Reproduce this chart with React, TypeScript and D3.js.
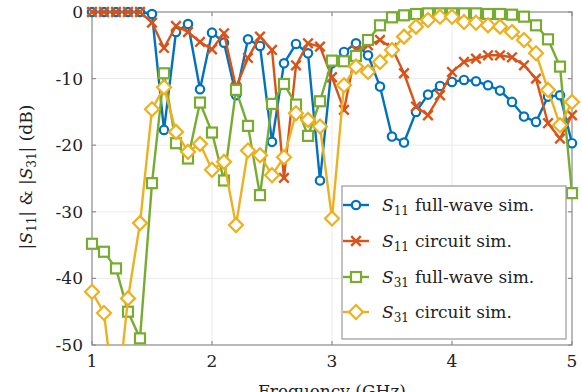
import React from "react";
import * as d3 from "d3";

const freqs = [1.0, 1.1, 1.2, 1.3, 1.4, 1.5, 1.6, 1.7, 1.8, 1.9, 2.0, 2.1, 2.2, 2.3, 2.4, 2.5, 2.6, 2.7, 2.8, 2.9, 3.0, 3.1, 3.2, 3.3, 3.4, 3.5, 3.6, 3.7, 3.8, 3.9, 4.0, 4.1, 4.2, 4.3, 4.4, 4.5, 4.6, 4.7, 4.8, 4.9, 5.0];

const s11Full = [0, 0, 0, 0, 0, -0.3, -17.7, -3.0, -1.8, -11.6, -3.1, -4.6, -12.5, -4.1, -5.1, -19.5, -7.7, -4.8, -6.2, -25.3, -7.7, -6.0, -4.7, -6.5, -11.2, -18.7, -19.6, -15.0, -12.4, -11.1, -10.5, -10.2, -10.4, -11.0, -11.8, -13.5, -15.7, -16.5, -12.7, -12.5, -19.7];

const s11Circ = [0, 0, 0, 0, 0, -1.6, -5.4, -2.1, -3.0, -4.5, -5.6, -3.2, -11.3, -6.9, -3.7, -5.7, -24.9, -8.0, -4.7, -5.2, -9.8, -14.7, -5.7, -5.0, -4.2, -5.4, -9.2, -14.2, -15.5, -12.5, -9.0, -7.5, -7.0, -6.5, -6.5, -6.8, -8.0, -10.0, -16.7, -19.0, -15.5];

const s31Full = [-34.8, -36.0, -38.5, -45.0, -49.0, -25.7, -9.2, -19.7, -22.0, -13.6, -18.1, -25.3, -11.7, -17.1, -27.5, -13.8, -10.8, -13.9, -18.6, -13.4, -7.3, -7.4, -6.6, -4.2, -2.0, -0.8, -0.5, -0.3, -0.2, -0.2, -0.2, -0.2, -0.2, -0.3, -0.3, -0.4, -0.7, -2.0, -4.1, -8.2, -27.2];

const s31Circ = [-42.0, -45.2, -60.0, -43.0, -31.7, -14.6, -11.3, -18.0, -21.0, -19.8, -23.7, -22.5, -32.0, -20.8, -21.5, -24.5, -21.8, -15.2, -16.2, -17.2, -31.0, -11.0, -8.2, -9.0, -7.5, -5.7, -3.7, -2.2, -1.2, -0.7, -0.7, -1.5, -1.6, -2.0, -2.2, -3.0, -4.2, -6.2, -11.7, -17.0, -13.5];

const xTicks = [1, 2, 3, 4, 5];
const yTicks = [0, -10, -20, -30, -40, -50];

const seriesNames = ["full-wave sim.", "circuit sim.", "full-wave sim.", "circuit sim."];
const seriesSubs = ["11", "11", "31", "31"];

const W = 582;
const H = 392;
const left = 92;
const right = 572;
const top = 12;
const bottom = 345;
const FONT = "'DejaVu Serif', serif";

const COLORS = ["#0072BD", "#D95319", "#77AC30", "#EDB120"];

function Marker({ kind, x, y, color }: { kind: string; x: number; y: number; color: string }) {
  if (kind === "circle") {
    return <circle cx={x} cy={y} r={4.2} fill="#fff" stroke={color} strokeWidth={2.2} />;
  }
  if (kind === "x") {
    const s = 4.8;
    return (
      <g stroke={color} strokeWidth={2.4}>
        <line x1={x - s} y1={y - s} x2={x + s} y2={y + s} />
        <line x1={x - s} y1={y + s} x2={x + s} y2={y - s} />
      </g>
    );
  }
  if (kind === "square") {
    const s = 5;
    return <rect x={x - s} y={y - s} width={2 * s} height={2 * s} fill="#fff" stroke={color} strokeWidth={2.2} />;
  }
  const s = 7;
  return (
    <path
      d={`M${x},${y - s}L${x + s},${y}L${x},${y + s}L${x - s},${y}Z`}
      fill="#fff"
      stroke={color}
      strokeWidth={2.2}
    />
  );
}

export default function App() {
  const x = d3.scaleLinear().domain([1, 5]).range([left, right]);
  const y = d3.scaleLinear().domain([-50, 0]).range([bottom, top]);

  const series = [
    { vals: s11Full, kind: "circle", color: COLORS[0] },
    { vals: s11Circ, kind: "x", color: COLORS[1] },
    { vals: s31Full, kind: "square", color: COLORS[2] },
    { vals: s31Circ, kind: "diamond", color: COLORS[3] },
  ];

  const line = d3
    .line<number>()
    .x((_, i) => x(freqs[i]))
    .y((d) => y(d));

  const legendRows = [211, 247, 283, 318];

  return (
    <svg width={W} height={H} style={{ position: "absolute", left: 0, top: 0, background: "#fff" }} fontFamily={FONT}>
      <defs>
        <clipPath id="plotclip">
          <rect x={left} y={top - 10} width={right - left} height={bottom - top + 10} />
        </clipPath>
      </defs>
      <rect x={0} y={0} width={W} height={H} fill="#fff" />
      {/* grid */}
      <g stroke="#ebebeb" strokeWidth={1}>
        {xTicks.map((t) => (
          <line key={"gx" + t} x1={x(t)} x2={x(t)} y1={top} y2={bottom} />
        ))}
        {yTicks.map((t) => (
          <line key={"gy" + t} x1={left} x2={right} y1={y(t)} y2={y(t)} />
        ))}
      </g>
      {/* axis box */}
      <rect x={left} y={top} width={right - left} height={bottom - top} fill="none" stroke="#8f8f8f" strokeWidth={1.2} />
      <g stroke="#8f8f8f" strokeWidth={1.2}>
        {xTicks.map((t) => (
          <g key={"tx" + t}>
            <line x1={x(t)} x2={x(t)} y1={bottom} y2={bottom - 4} />
            <line x1={x(t)} x2={x(t)} y1={top} y2={top + 4} />
          </g>
        ))}
        {yTicks.map((t) => (
          <g key={"ty" + t}>
            <line x1={left} x2={left + 4} y1={y(t)} y2={y(t)} />
            <line x1={right} x2={right - 4} y1={y(t)} y2={y(t)} />
          </g>
        ))}
      </g>
      {/* tick labels */}
      <g fontSize={17} fill="#222">
        {xTicks.map((t) => (
          <text key={"lx" + t} x={x(t)} y={367} textAnchor="middle">
            {t}
          </text>
        ))}
        {yTicks.map((t) => (
          <text key={"ly" + t} x={83} y={y(t) + 6} textAnchor="end">
            {t}
          </text>
        ))}
      </g>
      {/* series */}
      {series.map((s, si) => (
        <g key={"s" + si}>
          <path d={line(s.vals) || ""} fill="none" stroke={s.color} strokeWidth={2.4} clipPath="url(#plotclip)" strokeLinejoin="round" />
          {s.vals.map((v, i) =>
            v >= -52 ? <Marker key={i} kind={s.kind} x={x(freqs[i])} y={y(v)} color={s.color} /> : null
          )}
        </g>
      ))}
      {/* legend */}
      <rect x={342} y={186} width={224} height={153} fill="#fff" stroke="#999" strokeWidth={1.2} />
      {series.map((s, si) => (
        <g key={"lg" + si}>
          <line x1={343} x2={369} y1={legendRows[si] - 6} y2={legendRows[si] - 6} stroke={s.color} strokeWidth={2.4} />
          <Marker kind={s.kind} x={356} y={legendRows[si] - 6} color={s.color} />
          <text x={382} y={legendRows[si]} fontSize={17} fill="#222">
            <tspan fontStyle="italic">S</tspan>
            <tspan fontSize={12} dy={4}>{seriesSubs[si]}</tspan>
            <tspan dy={-4} dx={6}>{seriesNames[si]}</tspan>
          </text>
        </g>
      ))}
      {/* y label */}
      <text transform={`translate(32,177) rotate(-90)`} textAnchor="middle" fontSize={17} fill="#222">
        <tspan>|</tspan>
        <tspan fontStyle="italic">S</tspan>
        <tspan fontSize={12} dy={4}>11</tspan>
        <tspan dy={-4}>| &amp; |</tspan>
        <tspan fontStyle="italic">S</tspan>
        <tspan fontSize={12} dy={4}>31</tspan>
        <tspan dy={-4}>| (dB)</tspan>
      </text>
      {/* x label */}
      <text x={332} y={397} textAnchor="middle" fontSize={17} fill="#222">
        Frequency (GHz)
      </text>
    </svg>
  );
}
